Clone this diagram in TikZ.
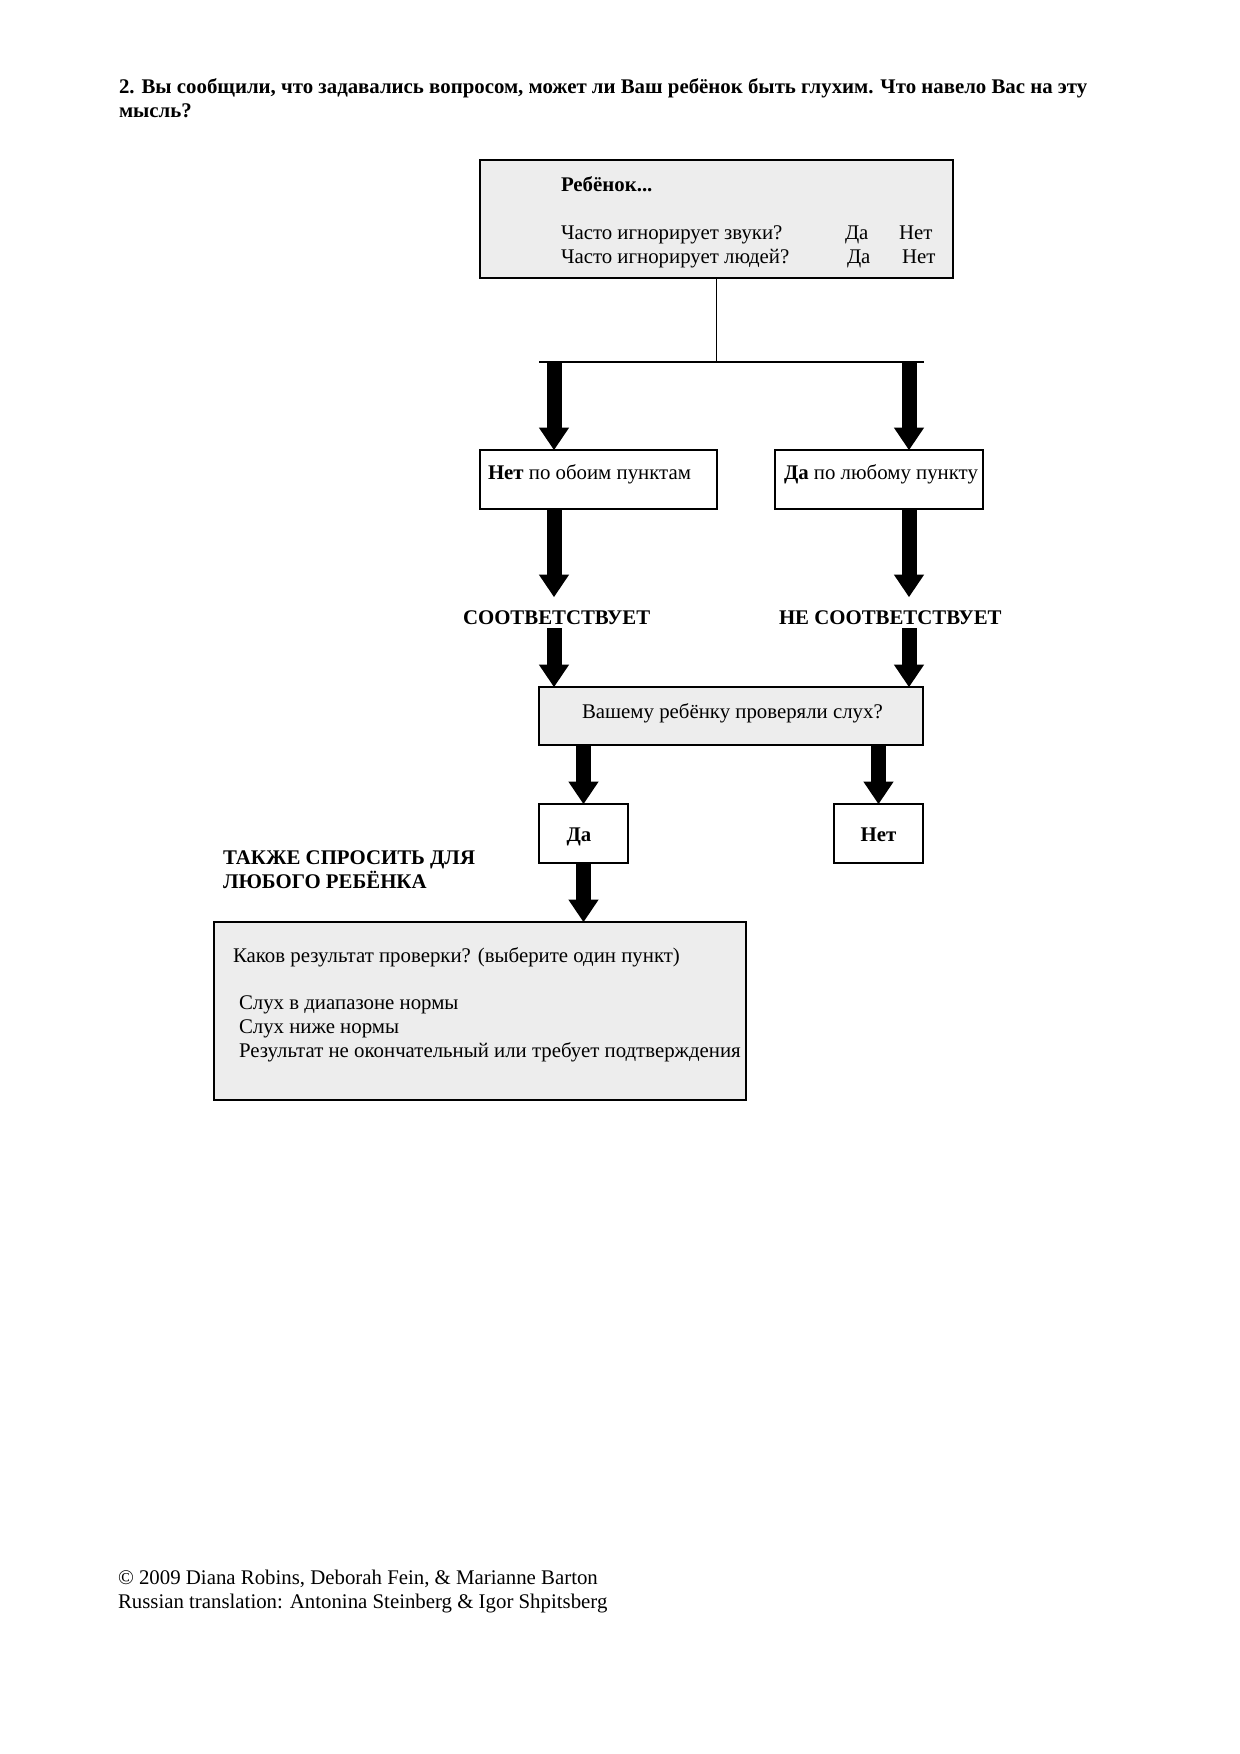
\documentclass[tikz,border=0pt]{standalone}
\usepackage{fontspec}
\setmainfont{Liberation Serif}
\usetikzlibrary{arrows.meta,fit}
\definecolor{boxgray}{RGB}{237,237,237}
\begin{document}
\begin{tikzpicture}[x=0.48pt,y=-0.48pt,
  every node/.style={inner sep=0pt, outer sep=0pt, font=\fontsize{10}{12}\selectfont},
  txt/.style={anchor=base west},
  ctxt/.style={anchor=base},
  graybox/.style={draw=black, fill=boxgray, line width=0.5pt},
  whitebox/.style={draw=black, fill=white, line width=0.5pt},
  thinline/.style={draw=black, line width=0.5pt},
  bigarrow/.style={draw=black, line width=7.2pt,
    -{Triangle[width=14.6pt,length=10.8pt,line width=0pt]}}
]
\fill[white] (0,0) rectangle (1240,1754);
\useasboundingbox (0,0) rectangle (1240,1754);

% title
\node[txt] (title1) at (119,93) {\bfseries 2. Вы сообщили, что задавались вопросом, может ли Ваш ребёнок быть глухим. Что навело Вас на эту};
\node[txt] (title2) at (119,117) {\bfseries мысль?};

% top box
\node[graybox, fit={(480,160)(953,278)}] (b1) {};
\node[txt] (b1t) at (561,191) {\bfseries Ребёнок...};
\node[txt] (q1) at (561,239) {Часто игнорирует звуки?};
\node[txt] (q1y) at (845,239) {Да};
\node[txt] (q1n) at (899,239) {Нет};
\node[txt] (q2) at (561,263) {Часто игнорирует людей?};
\node[txt] (q2y) at (847,263) {Да};
\node[txt] (q2n) at (902,263) {Нет};

% branch line
\coordinate (hl) at (539,362);
\coordinate (hr) at (924,362);
\coordinate (aL) at (554,362);
\coordinate (aR) at (909,362);
\draw[thinline] (b1.south) -- (b1.south |- hl);
\draw[thinline] (hl) -- (hr);

% second row boxes
\node[whitebox, fit={(480,450)(717,509)}] (nL) {};
\node[txt] (nLt) at (488,479) {\textbf{Нет} по обоим пунктам};
\node[whitebox, fit={(775,450)(983,509)}] (nR) {};
\node[txt] (nRt) at (784,479) {\textbf{Да} по любому пункту};

\draw[bigarrow] (aL) -- (aL |- nL.north);
\draw[bigarrow] (aR) -- (aR |- nR.north);

% labels
\node[txt] (lblL) at (463,624) {\bfseries СООТВЕТСТВУЕТ};
\node[txt] (lblR) at (779,624) {\bfseries НЕ СООТВЕТСТВУЕТ};
\coordinate (tL) at (554,597);
\coordinate (tR) at (909,597);
\coordinate (cL) at (554,628);
\coordinate (cR) at (909,628);
\draw[bigarrow] (aL |- nL.south) -- (tL);
\draw[bigarrow] (aR |- nR.south) -- (tR);

% question box
\node[graybox, fit={(539,687)(923,745)}] (b2) {};
\node[txt] (b2t) at (582,718) {Вашему ребёнку проверяли слух?};
\draw[bigarrow] (cL) -- (cL |- b2.north);
\draw[bigarrow] (cR) -- (cR |- b2.north);

% yes / no
\node[whitebox, fit={(539,804)(628,863)}] (yes) {};
\node[ctxt] (yest) at (579,841) {\bfseries Да};
\node[whitebox, fit={(834,804)(923,863)}] (no) {};
\node[ctxt] (not) at (878.5,841) {\bfseries Нет};
\draw[bigarrow] (b2.south -| yes.center) -- (yes.north);
\draw[bigarrow] (b2.south -| no.center) -- (no.north);

% also ask
\node[txt] (also1) at (223,864) {\bfseries ТАКЖЕ СПРОСИТЬ ДЛЯ};
\node[txt] (also2) at (223,888) {\bfseries ЛЮБОГО РЕБЁНКА};

% result box
\node[graybox, fit={(214,922)(746,1100)}] (b3) {};
\node[txt] (r0) at (233,962) {Каков результат проверки? (выберите один пункт)};
\node[txt] (r1) at (239,1009) {Слух в диапазоне нормы};
\node[txt] (r2) at (239,1033) {Слух ниже нормы};
\node[txt] (r3) at (239,1057) {Результат не окончательный или требует подтверждения};
\draw[bigarrow] (yes.south) -- (yes.south |- b3.north);

% footer
\node[txt] (f1) at (118,1584) {© 2009 Diana Robins, Deborah Fein, \& Marianne Barton};
\node[txt] (f2) at (118,1608) {Russian translation: Antonina Steinberg \& Igor Shpitsberg};
\end{tikzpicture}
\end{document}
